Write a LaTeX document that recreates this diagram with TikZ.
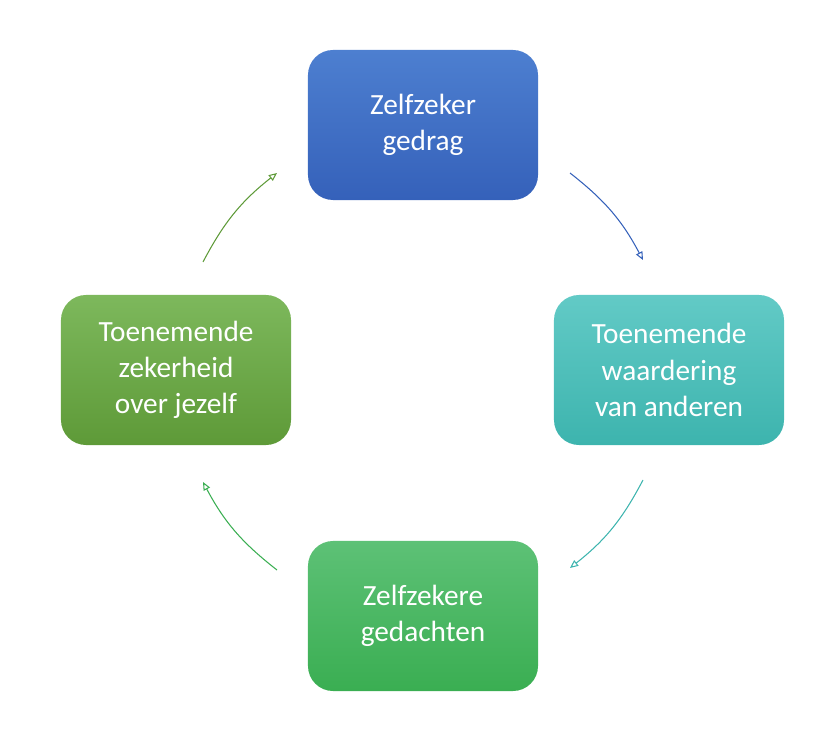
\documentclass[tikz,border=0pt]{standalone}
\usepackage{fontspec}
\setmainfont{Carlito}
\usetikzlibrary{arrows.meta}
\definecolor{blueA}{HTML}{4D7FD0}
\definecolor{blueB}{HTML}{3561BA}
\definecolor{tealA}{HTML}{62CAC6}
\definecolor{tealB}{HTML}{3DB4AE}
\definecolor{greenA}{HTML}{5DC176}
\definecolor{greenB}{HTML}{3AAE52}
\definecolor{oliveA}{HTML}{7DB85C}
\definecolor{oliveB}{HTML}{5E9A38}
\begin{document}
\begin{tikzpicture}[x=0.03cm,y=-0.03cm]
        \tikzstyle{cyclebox}=[
            rounded corners=0.75cm,
            minimum width=6.9cm,
            minimum height=4.5cm,
            align=center,
            text=white,
            font=\fontsize{25}{31}\selectfont
        ]
        \tikzstyle{cyclearrow}=[-{Stealth[length=7pt,width=6pt,inset=0pt,open]}, line width=0.9pt]

        \useasboundingbox (0,0) rectangle (828,736);

        \node[cyclebox, top color=blueA, bottom color=blueB] (gedrag) at (423,125){Zelfzeker\\gedrag};
        \node[cyclebox, top color=tealA, bottom color=tealB] (waardering) at (669,370){Toenemende\\waardering\\van anderen};
        \node[cyclebox, top color=greenA, bottom color=greenB] (gedachten) at (423,616){Zelfzekere\\gedachten};
        \node[cyclebox, top color=oliveA, bottom color=oliveB] (zekerheid) at (176,370){Toenemende\\zekerheid\\over jezelf};

        \coordinate (g1) at (570,173);
        \coordinate (w0) at (643,260);
        \coordinate (w1) at (643,480);
        \coordinate (d0) at (570,568);
        \coordinate (d1) at (277,570);
        \coordinate (z0) at (203,482);
        \coordinate (z1) at (203,262);
        \coordinate (g0) at (277,173);

        \draw[cyclearrow, draw=blueB] (g1) to[bend left=12] (w0);
        \draw[cyclearrow, draw=tealB] (w1) to[bend left=12] (d0);
        \draw[cyclearrow, draw=greenB] (d1) to[bend left=12] (z0);
        \draw[cyclearrow, draw=oliveB] (z1) to[bend left=12] (g0);
    \end{tikzpicture}
\end{document}
